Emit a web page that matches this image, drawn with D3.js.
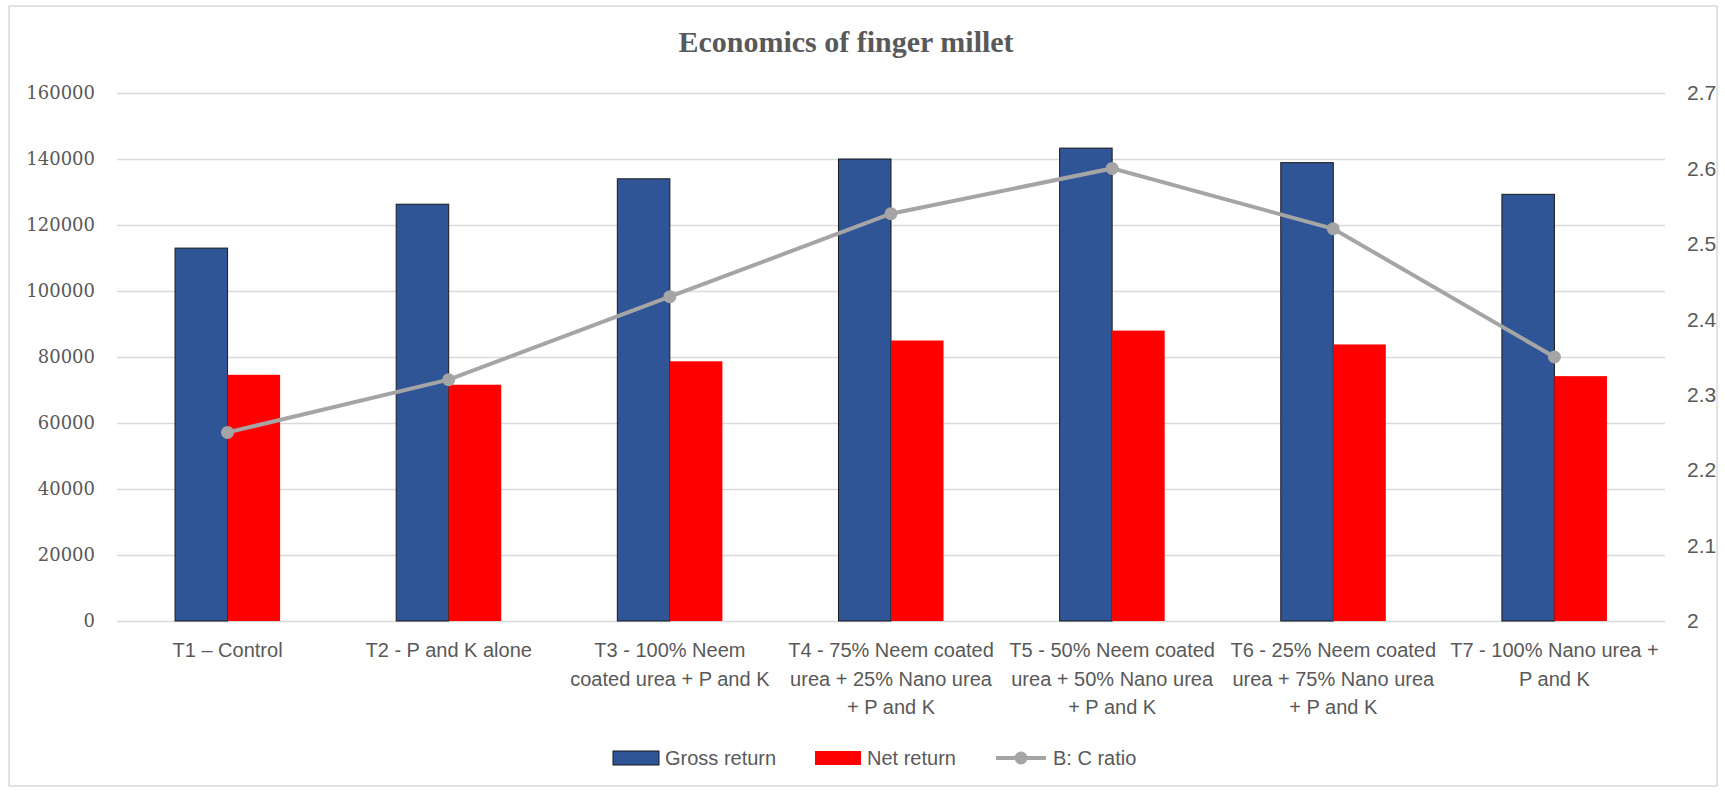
<!DOCTYPE html>
<html>
<head>
<meta charset="utf-8">
<script src="https://cdn.jsdelivr.net/npm/d3@7"></script>
<style>
  body { margin: 0; background: #fff; }
  text { fill: #595959; }
</style>
</head>
<body>
<svg id="chart"></svg>
<script>
const svgWidth = 1725;
const svgHeight = 792;

// data
const categoryLines = [
    ["T1 \u2013 Control"],
    ["T2 - P and K alone"],
    ["T3 - 100% Neem", "coated urea + P and K"],
    ["T4 - 75% Neem coated", "urea + 25% Nano urea", "+ P and K"],
    ["T5 - 50% Neem coated", "urea + 50% Nano urea", "+ P and K"],
    ["T6 - 25% Neem coated", "urea + 75% Nano urea", "+ P and K"],
    ["T7 - 100% Nano urea +", "P and K"]
];
const categories = categoryLines.map(l => l.join(" "));
const grossReturn = [113000, 126300, 134000, 140000, 143300, 138900, 129300];
const netReturn = [74600, 71600, 78700, 85000, 88000, 83800, 74200];
const bcRatio = [2.25, 2.32, 2.43, 2.54, 2.60, 2.52, 2.35];
const leftTicks = [0, 20000, 40000, 60000, 80000, 100000, 120000, 140000, 160000];
const rightTicks = [2, 2.1, 2.2, 2.3, 2.4, 2.5, 2.6, 2.7];
const seriesNames = ["Gross return", "Net return", "B: C ratio"];

const plot = { left: 117, right: 1665, top: 93, bottom: 621 };
const sansFont = "'Liberation Sans Narrow', 'Liberation Sans', sans-serif";

var svg = d3.select("#chart")
    .attr("width", svgWidth)
    .attr("height", svgHeight);

svg.append("rect")
    .attr("x", 9).attr("y", 6)
    .attr("width", 1708).attr("height", 780)
    .attr("fill", "#fff")
    .attr("stroke", "#d9d9d9")
    .attr("stroke-width", 1.5);

svg.append("text")
    .attr("x", 846).attr("y", 52)
    .attr("text-anchor", "middle")
    .style("font-family", "'Liberation Serif', serif")
    .style("font-weight", "bold")
    .style("font-size", "30px")
    .text("Economics of finger millet");

var x0 = d3.scaleBand()
    .domain(categories)
    .range([plot.left, plot.right])
    .paddingInner(0.525)
    .paddingOuter(0.2625);

var x1 = d3.scaleBand()
    .domain([0, 1])
    .range([0, x0.bandwidth()]);

var yLeft = d3.scaleLinear()
    .domain([0, 160000])
    .range([plot.bottom, plot.top]);

var yRight = d3.scaleLinear()
    .domain([2, 2.7])
    .range([plot.bottom, plot.top]);

// gridlines
svg.append("g")
    .attr("transform", `translate(${plot.left},0)`)
    .call(d3.axisLeft(yLeft).tickValues(leftTicks).tickSize(-(plot.right - plot.left)).tickFormat(""))
    .call(g => g.select(".domain").remove())
    .call(g => g.selectAll("line").attr("stroke", "#d9d9d9").attr("stroke-width", 1.5));

// left axis labels
svg.append("g")
    .attr("transform", `translate(${plot.left},0)`)
    .call(d3.axisLeft(yLeft).tickValues(leftTicks).tickSize(0).tickPadding(22).tickFormat(d3.format("d")))
    .call(g => g.select(".domain").remove())
    .call(g => g.selectAll("text")
        .style("font-family", "'DejaVu Serif', serif")
        .style("font-size", "18px")
        .attr("fill", "#595959"));

// right axis labels
svg.append("g")
    .attr("transform", `translate(${plot.right},0)`)
    .call(d3.axisRight(yRight).tickValues(rightTicks).tickSize(0).tickPadding(22).tickFormat(d3.format("~g")))
    .call(g => g.select(".domain").remove())
    .call(g => g.selectAll("text")
        .style("font-family", sansFont)
        .style("font-size", "21px")
        .attr("fill", "#595959"));

// x axis labels
var xAxis = svg.append("g")
    .attr("transform", `translate(0,${plot.bottom})`)
    .call(d3.axisBottom(x0).tickSize(0).tickFormat(""))
    .call(g => g.select(".domain").remove());

xAxis.selectAll(".tick text").remove();
xAxis.selectAll(".tick").each(function(d, i) {
    var t = d3.select(this).append("text")
        .attr("text-anchor", "middle")
        .attr("y", 36)
        .style("font-family", sansFont)
        .style("font-size", "20px")
        .attr("fill", "#595959");
    categoryLines[i].forEach(function(line, j) {
        t.append("tspan").attr("x", 0).attr("dy", j === 0 ? 0 : 28.5).text(line);
    });
});

// bars
var groups = svg.selectAll("g.cat")
    .data(categories)
    .enter()
    .append("g")
    .attr("class", "cat")
    .attr("transform", d => `translate(${x0(d)},0)`);

groups.append("rect")
    .attr("x", x1(0))
    .attr("width", x1.bandwidth())
    .attr("y", (d, i) => yLeft(grossReturn[i]))
    .attr("height", (d, i) => yLeft(0) - yLeft(grossReturn[i]))
    .attr("fill", "#2f5597")
    .attr("stroke", "#1a1a1a")
    .attr("stroke-width", 1);

groups.append("rect")
    .attr("x", x1(1))
    .attr("width", x1.bandwidth())
    .attr("y", (d, i) => yLeft(netReturn[i]))
    .attr("height", (d, i) => yLeft(0) - yLeft(netReturn[i]))
    .attr("fill", "#ff0000");

// B:C ratio line
var line = d3.line()
    .x((d, i) => x0(categories[i]) + x0.bandwidth() / 2)
    .y(d => yRight(d));

svg.append("path")
    .datum(bcRatio)
    .attr("d", line)
    .attr("fill", "none")
    .attr("stroke", "#a5a5a5")
    .attr("stroke-width", 4);

svg.selectAll("circle.bc")
    .data(bcRatio)
    .enter()
    .append("circle")
    .attr("class", "bc")
    .attr("cx", (d, i) => x0(categories[i]) + x0.bandwidth() / 2)
    .attr("cy", d => yRight(d))
    .attr("r", 6.5)
    .attr("fill", "#a5a5a5");

// legend
var legend = svg.append("g")
    .style("font-family", sansFont)
    .style("font-size", "20px");

legend.append("rect")
    .attr("x", 613).attr("y", 751).attr("width", 46).attr("height", 14)
    .attr("fill", "#2f5597").attr("stroke", "#1a1a1a").attr("stroke-width", 1);
legend.append("text").attr("x", 665).attr("y", 765).text(seriesNames[0]);

legend.append("rect")
    .attr("x", 815).attr("y", 751).attr("width", 46).attr("height", 14)
    .attr("fill", "#ff0000");
legend.append("text").attr("x", 867).attr("y", 765).text(seriesNames[1]);

legend.append("line")
    .attr("x1", 996).attr("x2", 1046).attr("y1", 758).attr("y2", 758)
    .attr("stroke", "#a5a5a5").attr("stroke-width", 4);
legend.append("circle")
    .attr("cx", 1021).attr("cy", 758).attr("r", 6.5).attr("fill", "#a5a5a5");
legend.append("text").attr("x", 1053).attr("y", 765).text(seriesNames[2]);
</script>
</body>
</html>
